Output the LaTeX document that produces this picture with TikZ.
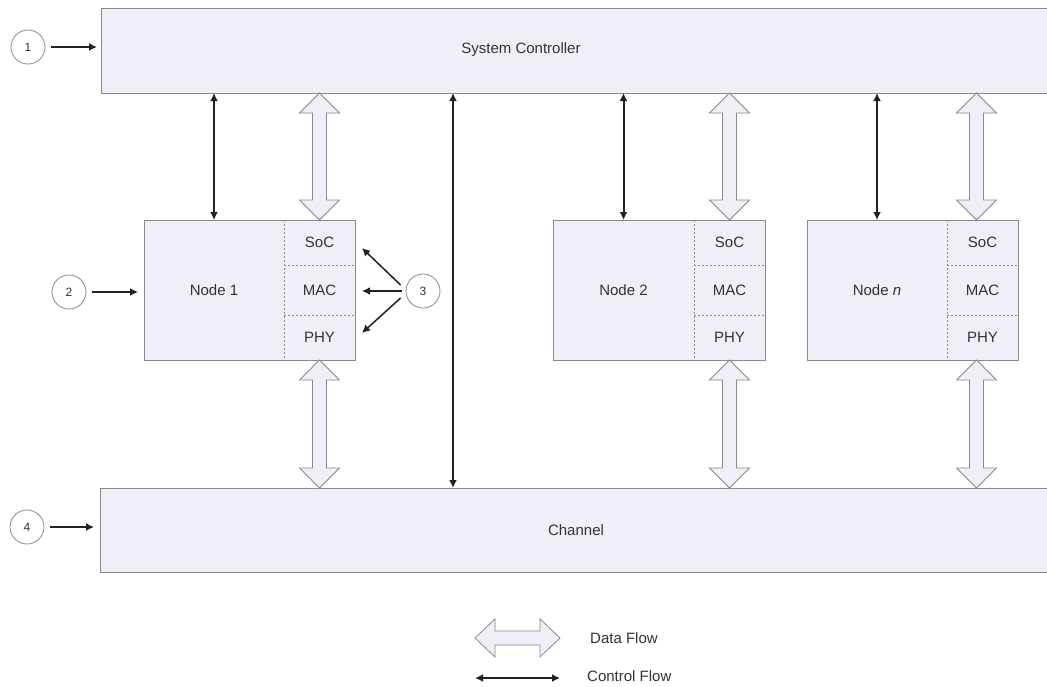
\documentclass[tikz,border=0pt]{standalone}
\usepackage{fontspec}
\setmainfont{Liberation Sans}
\usetikzlibrary{arrows.meta,calc}
\definecolor{boxfill}{HTML}{EFEFF7}
\definecolor{boxline}{HTML}{8A8A8A}
\definecolor{txt}{HTML}{333333}
\definecolor{ctrlc}{HTML}{222222}
% vertical fat double arrow: #1 top tip, #2 bottom tip
\newcommand\fatv[2]{\path[fat] (#1) -- ($(#1)+(20,20)$) -- ($(#1)+(7,20)$) -- ($(#2)+(7,-20)$) -- ($(#2)+(20,-20)$) -- (#2) -- ($(#2)+(-20,-20)$) -- ($(#2)+(-7,-20)$) -- ($(#1)+(-7,20)$) -- ($(#1)+(-20,20)$) -- cycle;}
% horizontal fat double arrow: #1 left tip, #2 right tip
\newcommand\fath[2]{\path[fat] (#1) -- ($(#1)+(20,-19)$) -- ($(#1)+(20,-7)$) -- ($(#2)+(-20,-7)$) -- ($(#2)+(-20,-19)$) -- (#2) -- ($(#2)+(-20,19)$) -- ($(#2)+(-20,7)$) -- ($(#1)+(20,7)$) -- ($(#1)+(20,19)$) -- cycle;}
\begin{document}
\begin{tikzpicture}[x=1pt,y=-1pt,
  box/.style={draw=boxline, fill=boxfill, line width=0.8pt, inner sep=0pt, outer sep=0pt, font=\fontsize{15}{18}\selectfont, text=txt},
  cell/.style={fill=boxfill, draw=none, minimum width=71pt, inner sep=0pt, outer sep=0pt, font=\fontsize{15}{18}\selectfont, text=txt},
  plain/.style={inner sep=0pt, font=\fontsize{15}{18}\selectfont, text=txt},
  ctrl/.style={{Latex[length=8pt,width=8pt]}-{Latex[length=8pt,width=8pt]}, line width=2pt, draw=ctrlc},
  fat/.style={draw=boxline, fill=boxfill, line width=0.8pt, line join=miter},
  num/.style={circle, draw=boxline, fill=white, line width=0.8pt, minimum size=34pt, inner sep=0pt, font=\fontsize{12}{14}\selectfont, text=txt},
  ptr/.style={-{Latex[length=8pt,width=8pt]}, line width=1.5pt, draw=ctrlc},
  sep/.style={draw=boxline, dash pattern=on 2pt off 2pt, line width=0.6pt},
  outline/.style={draw=boxline, line width=0.8pt}]
\useasboundingbox (0,0) rectangle (1047,686);
\clip (0,0) rectangle (1047,686);
\fill[white] (0,0) rectangle (1047,686);

% System controller and channel
\node[box, minimum width=951pt, minimum height=85pt, anchor=north west] (sys) at (101,8) {};
\node[plain] (systxt) at (521,50) {System Controller};
\node[box, minimum width=952pt, minimum height=84pt, anchor=north west] (chan) at (100,488) {Channel};

% Node 1
\node[box, draw=none, minimum width=140pt, minimum height=140pt] (n1) at (214,290) {Node 1};
\node[cell, minimum height=45pt, anchor=north west] (n1soc) at (n1.north east) {SoC};
\node[cell, minimum height=50pt, anchor=north] (n1mac) at (n1soc.south) {MAC};
\node[cell, minimum height=45pt, anchor=north] (n1phy) at (n1mac.south) {PHY};
\draw[outline] (n1.north west) rectangle (n1phy.south east);
\draw[sep] (n1.north east) -- (n1.south east);
\draw[sep] (n1soc.south west) -- (n1soc.south east);
\draw[sep] (n1mac.south west) -- (n1mac.south east);

% Node 2
\node[box, draw=none, minimum width=141pt, minimum height=140pt] (n2) at (623.5,290) {Node 2};
\node[cell, minimum height=45pt, anchor=north west] (n2soc) at (n2.north east) {SoC};
\node[cell, minimum height=50pt, anchor=north] (n2mac) at (n2soc.south) {MAC};
\node[cell, minimum height=45pt, anchor=north] (n2phy) at (n2mac.south) {PHY};
\draw[outline] (n2.north west) rectangle (n2phy.south east);
\draw[sep] (n2.north east) -- (n2.south east);
\draw[sep] (n2soc.south west) -- (n2soc.south east);
\draw[sep] (n2mac.south west) -- (n2mac.south east);

% Node n
\node[box, draw=none, minimum width=140pt, minimum height=140pt] (nn) at (877,290) {Node \textit{n}};
\node[cell, minimum height=45pt, anchor=north west] (nnsoc) at (nn.north east) {SoC};
\node[cell, minimum height=50pt, anchor=north] (nnmac) at (nnsoc.south) {MAC};
\node[cell, minimum height=45pt, anchor=north] (nnphy) at (nnmac.south) {PHY};
\draw[outline] (nn.north west) rectangle (nnphy.south east);
\draw[sep] (nn.north east) -- (nn.south east);
\draw[sep] (nnsoc.south west) -- (nnsoc.south east);
\draw[sep] (nnmac.south west) -- (nnmac.south east);

% Control flow arrows
\draw[ctrl] (n1.north |- sys.south) -- (n1.north);
\draw[ctrl] (n2.north |- sys.south) -- (n2.north);
\draw[ctrl] (nn.north |- sys.south) -- (nn.north);
\path (sys.south west) ++(352,0) coordinate (mt);
\coordinate (mb) at (mt |- chan.north);
\draw[ctrl] (mt) -- (mb);

% Data flow arrows
\coordinate (d1t) at (n1soc.north |- sys.south);
\coordinate (d1b) at (n1phy.south |- chan.north);
\fatv{d1t}{n1soc.north}
\fatv{n1phy.south}{d1b}
\coordinate (d2t) at (n2soc.north |- sys.south);
\coordinate (d2b) at (n2phy.south |- chan.north);
\fatv{d2t}{n2soc.north}
\fatv{n2phy.south}{d2b}
\coordinate (dnm) at ($(nnsoc.north)+(-6,0)$);
\coordinate (dnp) at ($(nnphy.south)+(-6,0)$);
\coordinate (dnt) at (dnm |- sys.south);
\coordinate (dnb) at (dnp |- chan.north);
\fatv{dnt}{dnm}
\fatv{dnp}{dnb}

% Numbered callouts
\node[num] (c1) at (28,47) {1};
\draw[ptr, shorten <=6pt, shorten >=4pt] (c1) -- (c1 -| sys.west);
\node[num] (c2) at (69,292) {2};
\draw[ptr, shorten <=6pt, shorten >=6pt] (c2) -- (c2 -| n1.west);
\node[num] (c4) at (27,527) {4};
\draw[ptr, shorten <=6pt, shorten >=6pt] (c4) -- (c4 -| chan.west);
\node[num] (c3) at (423,291) {3};
\coordinate (t3a) at (362,248);
\coordinate (t3b) at (362,291);
\coordinate (t3c) at (362,333);
\draw[ptr] ($(c3.west)+(-5,-6)$) -- (t3a);
\draw[ptr] ($(c3.west)+(-4,0)$) -- (t3b);
\draw[ptr] ($(c3.west)+(-5,7)$) -- (t3c);

% Legend
\coordinate (la) at (475,638);
\coordinate (lb) at (560,638);
\fath{la}{lb}
\node[plain, anchor=west] (ldata) at (590,638) {Data Flow};
\coordinate (lc) at (475,678);
\coordinate (ld) at (560,678);
\draw[ctrl] (lc) -- (ld);
\node[plain, anchor=west] (lctrl) at (587,676) {Control Flow};
\end{tikzpicture}
\end{document}
